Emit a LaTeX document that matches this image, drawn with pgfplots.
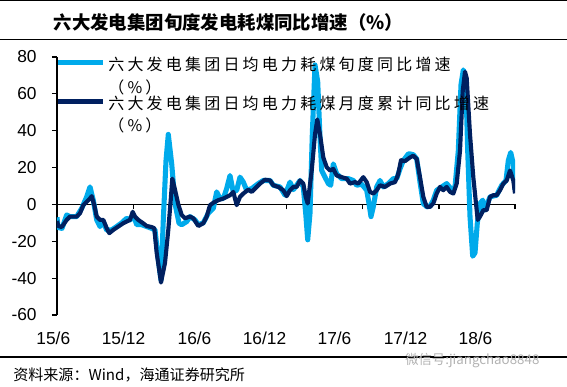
\documentclass[border=0pt]{standalone}
\usepackage{pgfplots}
\pgfplotsset{compat=1.18}
\usepackage{fontspec}
\setmainfont{Liberation Sans}
\newfontfamily\cjk{Noto Sans CJK SC}
\newfontfamily\cjkls[LetterSpace=20]{Noto Sans CJK SC}
\definecolor{lightb}{RGB}{0,170,235}
\definecolor{darkb}{RGB}{0,32,96}

\pgfplotstableread{
x y
0 -7
1 -12.5
5 -13
9.7 -5.7
13 -6.6
19.7 -6.6
24.7 -2.1
29.7 4.1
33 9.5
36.3 2.3
39.7 -8.4
43 -12
46.3 -9.3
49.7 -14
54.7 -13.8
59.7 -12
64.7 -10
69.7 -7.5
73 -8.4
76.3 -5.7
79.7 -11
84.7 -11
89.7 -12
94.7 -13
98 -13.8
101.3 -30
104 -41
106.3 -8.4
109 23.8
111.3 38
114.7 22
118 0.5
122 -10.2
124.7 -11
129.7 -9.3
133 -6.6
138 -8.4
141.3 -11
146.3 -10
151.3 -4.8
156.3 -2.1
159.7 6.8
163 3.2
166.3 3.2
169.7 8.6
173 15.7
176.3 6.8
179.7 7.7
183 14.8
186.3 12.1
189.7 7.7
194.7 8.6
201.3 11.3
206.3 13
213 13
216.3 10.4
223 9.5
228 5
233 12.1
236.3 8
239.7 10.4
243 13
246.3 9.5
248.7 -4.8
250.7 -19.2
253 -4.8
255.3 38
258 75.7
260.7 66.7
263 36.3
264.7 18.4
268 14.8
271.3 11.3
273.7 10.4
276.3 22
279.7 16.6
284.7 14
291.3 14
296.3 13
299.7 10.4
304.7 11
309.7 7.7
312 0.5
314 -6.6
316.3 -1.3
319.7 9.5
323 13
326.3 9.5
331.3 11.3
336.3 14
339.7 14
343 19.3
346.3 23.8
351.3 27.4
353 27.4
356.3 27
359.7 24.7
363 12.1
366.3 0.5
369.7 -1.3
373 -1
376.3 2.3
379.7 7.7
384.7 9.5
389.7 11.3
394.7 8
398 9.5
401.3 29.1
404 65
406.3 73
408.7 68.5
410.7 29.1
413 -6.6
415.7 -28.1
418 -26.3
420.3 -10.2
423 0.5
425.7 2.3
428 -3.1
433 4.1
439.7 5
444.7 10.4
449 13
451.3 23.8
453.7 28.2
456.3 22
458 8
}\lightdata

\pgfplotstableread{
x y
0 -9
1.3 -11.7
4.7 -12.3
9.7 -8.4
13 -6.6
19.7 -6.6
23 -4.8
26.3 -0.4
29.7 1.4
33 3.2
34.7 4.5
37.3 -0.4
39.7 -6.6
43 -8.4
46.3 -8.4
49.7 -12.9
52.3 -15.6
56.3 -13.8
61.3 -12
66.3 -10.2
69.7 -9.3
73 -8.4
75.7 -4
78 -6.6
81.3 -8.4
85.3 -9.9
89.7 -11.7
94.7 -12.3
97.3 -12.9
99.7 -26.3
104 -42.4
108 -31.7
111.3 -13.8
113.7 2.3
115.3 14
118 8
121.3 0
124.7 -5.7
128 -7.5
133 -6.6
136.3 -7.5
141.3 -11.7
146.3 -10.2
149.7 -6.6
153 -0.4
156.3 0.9
161.3 2.3
166.3 3.2
169.7 4.1
173 5
176.3 6.8
179.7 -0.4
183 4.1
186.3 5.9
191.3 8
194.7 6.8
198 8.6
203 11.3
208 13.4
213 13
216.3 10.4
221.3 9.5
226.3 7.7
229.7 4.5
233 7.7
236.3 9.5
239.7 9.5
243 13
246.3 11.3
248.7 4.1
250.7 0.5
254.7 18.4
258 38
260.3 46.1
263 38
266.3 25.5
269.7 20.2
273 18.4
276.3 19.3
279.7 15.7
284.7 14.8
289.7 14
293 11.3
298 12.1
301.3 11.3
306.3 14.8
309.7 12.1
313 6.8
316.3 5.9
319.7 7.7
323 10.4
328 9.5
333 11.3
338 12.1
341 16
344 24
348 23.5
353 25.5
356.3 26.4
359.7 24.7
363 14.8
366.3 4.1
369.7 -1.3
373 -1.3
376.3 0.5
379.7 5.9
383 9.5
386.3 7.7
389.7 9.5
393 6.8
396.3 5.9
399.7 11.3
403 29.1
405.7 61.4
408 72
409.7 68.5
413 38
416.3 14.8
419 0.5
420.7 -8.4
423 -6.6
426.3 -3.1
429.7 -3.1
433 4.1
436.3 5
439.7 5
443 7.7
446.3 11.3
449.7 13
453 18.4
456.3 13
458 6
}\darkdata

\begin{document}
\begin{tikzpicture}
\useasboundingbox (-42.75pt,-53.25pt) rectangle (382.5pt,236.25pt);
% frame lines
\draw[black, line width=0.8pt] (-42.75pt,235.9pt) -- (382.5pt,235.9pt);
\draw[black, line width=1pt] (-42.75pt,206.6pt) -- (382.5pt,206.6pt);
\draw[black, line width=1pt] (-42.75pt,-31.5pt) -- (382.5pt,-31.5pt);
\node[font=\cjk\bfseries\fontsize{13.8}{16}\selectfont, inner sep=0pt] at (128.5pt,219.4pt) {六大发电集团旬度发电耗煤同比增速（\%）};
\node[font=\cjk\fontsize{11.3}{13}\selectfont, anchor=west, inner sep=0pt] at (-33pt,-45pt) {资料来源：Wind，海通证券研究所};
\node[font=\cjk\fontsize{10}{12}\selectfont, text=black!30, anchor=west, inner sep=0pt] at (261pt,-34pt) {微信号:jiangchao8848};

% axis with zero line and its ticks
\begin{axis}[
  width=343.5pt, height=193.5pt, scale only axis,
  xmin=0, xmax=458, ymin=-60, ymax=80,
  axis x line=middle, axis y line=none,
  axis line style={-, black, line width=0.8pt},
  xtick={76.4,152.8,229.2,305.6,382,458},
  xticklabels={},
  xtick align=outside,
  major tick length=3.75pt,
  tick style={black, line width=0.8pt},
]
\end{axis}

\begin{axis}[
  width=343.5pt, height=193.5pt, scale only axis,
  xmin=0, xmax=458, ymin=-60, ymax=80,
  axis x line*=bottom, axis y line*=left,
  x axis line style={draw=none},
  y axis line style={-, black, line width=0.8pt},
  xtick={0,66.5,137.5,207.5,277.5,348.5,418.5},
  xticklabels={\hspace*{-5.5pt}15/6,15/12,16/6,16/12,17/6,17/12,18/6},
  x tick style={draw=none},
  ytick={-60,-40,-20,0,20,40,60,80},
  y tick style={black, line width=0.8pt},
  ytick align=outside,
  major tick length=3.75pt,
  tick label style={font=\fontsize{13}{15}\selectfont},
  /pgf/number format/assume math mode=true,
  xticklabel style={yshift=-9pt},
  yticklabel style={xshift=-8pt},
  legend cell align=left,
  legend style={at={(0,1)}, xshift=-1.25pt, yshift=2.25pt, anchor=north west, draw=none, fill=none,
    inner sep=0pt, font=\cjkls\fontsize{12}{17}\selectfont, row sep=-3.5pt,
    nodes={inner sep=2pt}, cells={align=left}},
  legend image code/.code={\path (0pt,-10pt) (33.75pt,10pt); \draw[#1] (0pt,10pt) -- (33.75pt,10pt);},
]
\addplot[lightb, line width=3.8pt, line join=round] table[x=x,y=y] {\lightdata};
\addlegendentry{六大发电集团日均电力耗煤旬度同比增速\\（\%）}
\addplot[darkb, line width=3.1pt, line join=round] table[x=x,y=y] {\darkdata};
\addlegendentry{六大发电集团日均电力耗煤月度累计同比增速\\（\%）}
\end{axis}
\end{tikzpicture}
\end{document}
